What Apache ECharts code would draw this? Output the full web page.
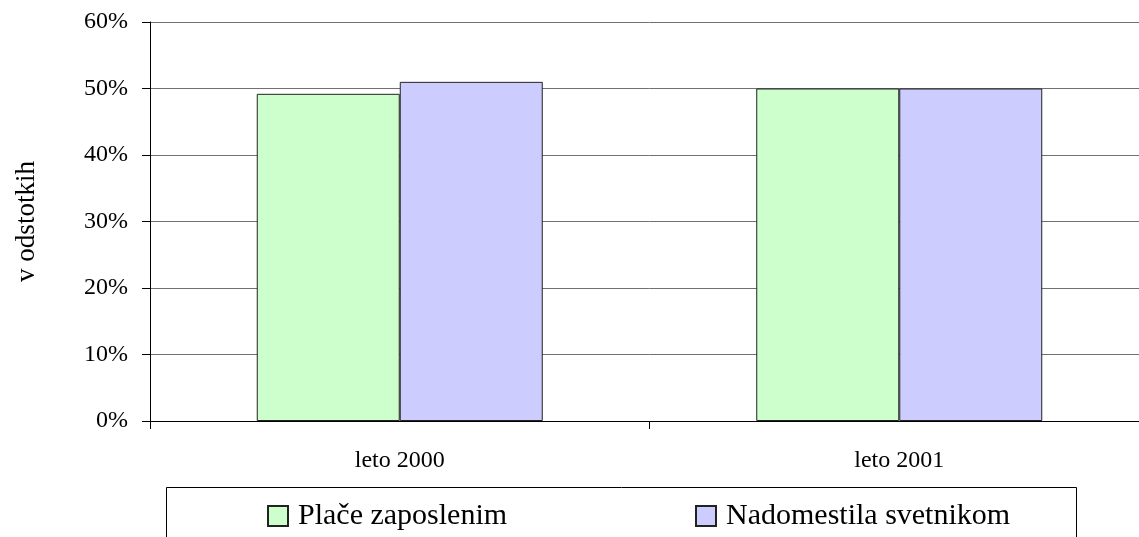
<!DOCTYPE html>
<html>
<head>
<meta charset="utf-8">
<script src="https://cdn.jsdelivr.net/npm/echarts@6/dist/echarts.min.js"></script>
<style>html,body{margin:0;padding:0;background:#fff;overflow:hidden;width:1139px;height:537px;}#c{width:1149px;height:537px;}</style>
</head>
<body>
<div id="c"></div>
<script>
var categories = ['leto 2000', 'leto 2001'];
var seriesNames = ['Plače zaposlenim', 'Nadomestila svetnikom'];
var placeValues = [49.2, 50.0];
var nadomestilaValues = [51.0, 50.0];
var yTicks = [0, 10, 20, 30, 40, 50, 60];

var FONT = '"Liberation Serif", "Times New Roman", serif';
var chart = echarts.init(document.getElementById('c'), null, {renderer: 'canvas'});
chart.setOption({
  animation: false,
  backgroundColor: '#fff',
  grid: {left: 150, top: 22, right: 0, height: 399, containLabel: false},
  graphic: [{
    type: 'rect', left: 166, top: 487, z: -1,
    shape: {width: 910, height: 70},
    style: {fill: '#fff', stroke: '#000', lineWidth: 1}
  }],
  legend: [{
    data: [seriesNames[0]], left: 267, top: 501, padding: 0, icon: 'rect',
    itemWidth: 20, itemHeight: 20,
    textStyle: {fontFamily: FONT, fontSize: 30, color: '#000', padding: [0, 0, 0, 5]}
  }, {
    data: [seriesNames[1]], left: 695, top: 501, padding: 0, icon: 'rect',
    itemWidth: 20, itemHeight: 20,
    textStyle: {fontFamily: FONT, fontSize: 30, color: '#000', padding: [0, 0, 0, 5]}
  }],
  xAxis: {
    type: 'category', data: categories,
    axisLine: {lineStyle: {color: '#000', width: 1}},
    axisTick: {show: true, length: 8, lineStyle: {color: '#000'}},
    axisLabel: {fontFamily: FONT, fontSize: 24, color: '#000', margin: 28}
  },
  yAxis: {
    type: 'value', min: 0, max: 60, interval: 10,
    name: 'v odstotkih', nameLocation: 'middle', nameRotate: 90, nameGap: 110,
    nameTextStyle: {fontFamily: FONT, fontSize: 27, color: '#000'},
    axisLine: {show: true, lineStyle: {color: '#000', width: 1}},
    axisTick: {show: true, length: 8, lineStyle: {color: '#000'}},
    axisLabel: {fontFamily: FONT, fontSize: 24, color: '#000', margin: 22,
      formatter: function (v) { return yTicks.indexOf(v) >= 0 ? v + '%' : ''; }},
    splitLine: {show: true, lineStyle: {color: '#707070', width: 1}}
  },
  series: [{
    name: seriesNames[0], type: 'bar', data: placeValues,
    barWidth: 143, barGap: '0%',
    itemStyle: {color: '#CCFFCC', borderColor: '#222', borderWidth: 1}
  }, {
    name: seriesNames[1], type: 'bar', data: nadomestilaValues,
    barWidth: 143, barGap: '0%',
    itemStyle: {color: '#CCCCFF', borderColor: '#222', borderWidth: 1}
  }]
});
</script>
</body>
</html>
